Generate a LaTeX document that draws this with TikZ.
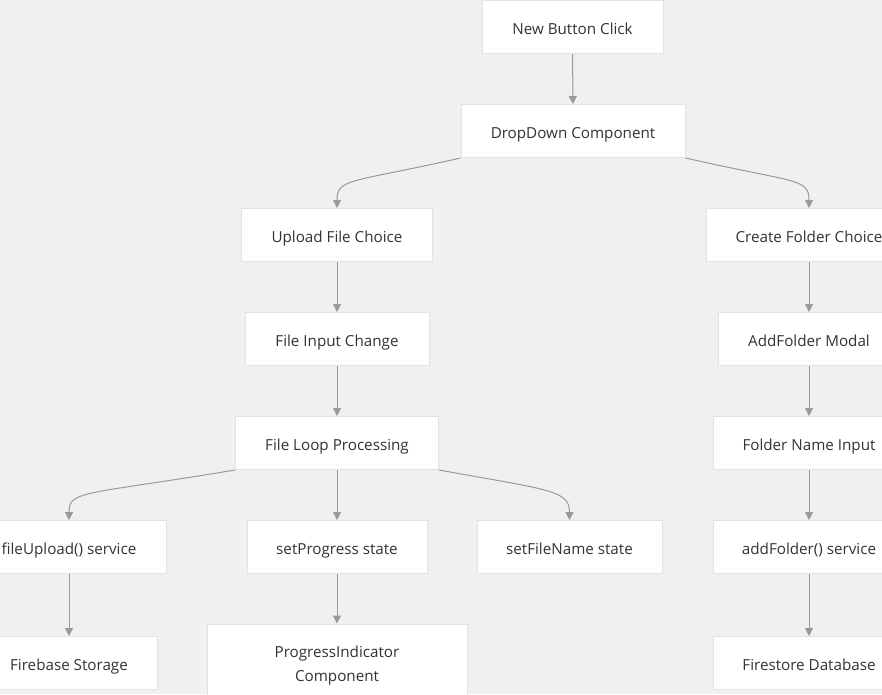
\documentclass[tikz,border=0pt]{standalone}
\usepackage{fontspec}
\setmainfont{Open Sans}
\usetikzlibrary{arrows.meta}
\definecolor{bg}{HTML}{F1F0EE}
\definecolor{bordercol}{HTML}{E2E2E2}
\definecolor{edgecol}{HTML}{999999}
\definecolor{textcol}{HTML}{333333}
\begin{document}
\begin{tikzpicture}[x=1pt,y=-1pt,
  box/.style={draw=bordercol, fill=white, line width=1pt, minimum height=53pt,
    inner sep=0pt, font=\fontsize{15.2pt}{24pt}\selectfont, text=textcol, align=center,
    text height=15pt, text depth=1pt},
  edge/.style={draw=edgecol, line width=1pt, -{Triangle[length=8pt,width=8pt]}}]
\fill[bg] (0,0) rectangle (882,694);
\useasboundingbox (0,0) rectangle (882,694);
\node[box, minimum width=181pt] (nbc) at (572.5,27) {New Button Click};
\node[box, minimum width=224pt] (dd) at (573,131) {DropDown Component};
\node[box, minimum width=191pt] (ufc) at (337,235) {Upload File Choice};
\node[box, minimum width=206pt] (cfc) at (809,235) {Create Folder Choice};
\node[box, minimum width=184pt] (fic) at (337,339) {File Input Change};
\node[box, minimum width=182pt] (afm) at (809,339) {AddFolder Modal};
\node[box, minimum width=203pt] (flp) at (337,443) {File Loop Processing};
\node[box, minimum width=192pt] (fni) at (809,443) {Folder Name Input};
\node[box, minimum width=194pt] (fus) at (69,547) {fileUpload() service};
\node[box, minimum width=180pt] (sps) at (337,547) {setProgress state};
\node[box, minimum width=185pt] (sfn) at (569.5,547) {setFileName state};
\node[box, minimum width=192pt] (afs) at (809,547) {addFolder() service};
\node[box, minimum width=176pt] (fbs) at (69,663) {Firebase Storage};
\node[box, minimum width=260pt, minimum height=84pt, text height=, text depth=] (pic) at (337,666) {ProgressIndicator\\Component};
\node[box, minimum width=192pt] (fsd) at (809,663) {Firestore Database};
\draw[edge] (nbc) -- (dd);
\draw[edge] (dd.south west) .. controls +(-110,25) and +(0,-30) .. (ufc.north);
\draw[edge] (dd.south east) .. controls +(110,25) and +(0,-30) .. (cfc.north);
\draw[edge] (ufc) -- (fic);
\draw[edge] (fic) -- (flp);
\draw[edge] (flp.south west) .. controls +(-150,25) and +(0,-30) .. (fus.north);
\draw[edge] (flp) -- (sps);
\draw[edge] (flp.south east) .. controls +(110,20) and +(0,-30) .. (sfn.north);
\draw[edge] (sps) -- (pic);
\draw[edge] (fus) -- (fbs);
\draw[edge] (cfc) -- (afm);
\draw[edge] (afm) -- (fni);
\draw[edge] (fni) -- (afs);
\draw[edge] (afs) -- (fsd);
\end{tikzpicture}
\end{document}
